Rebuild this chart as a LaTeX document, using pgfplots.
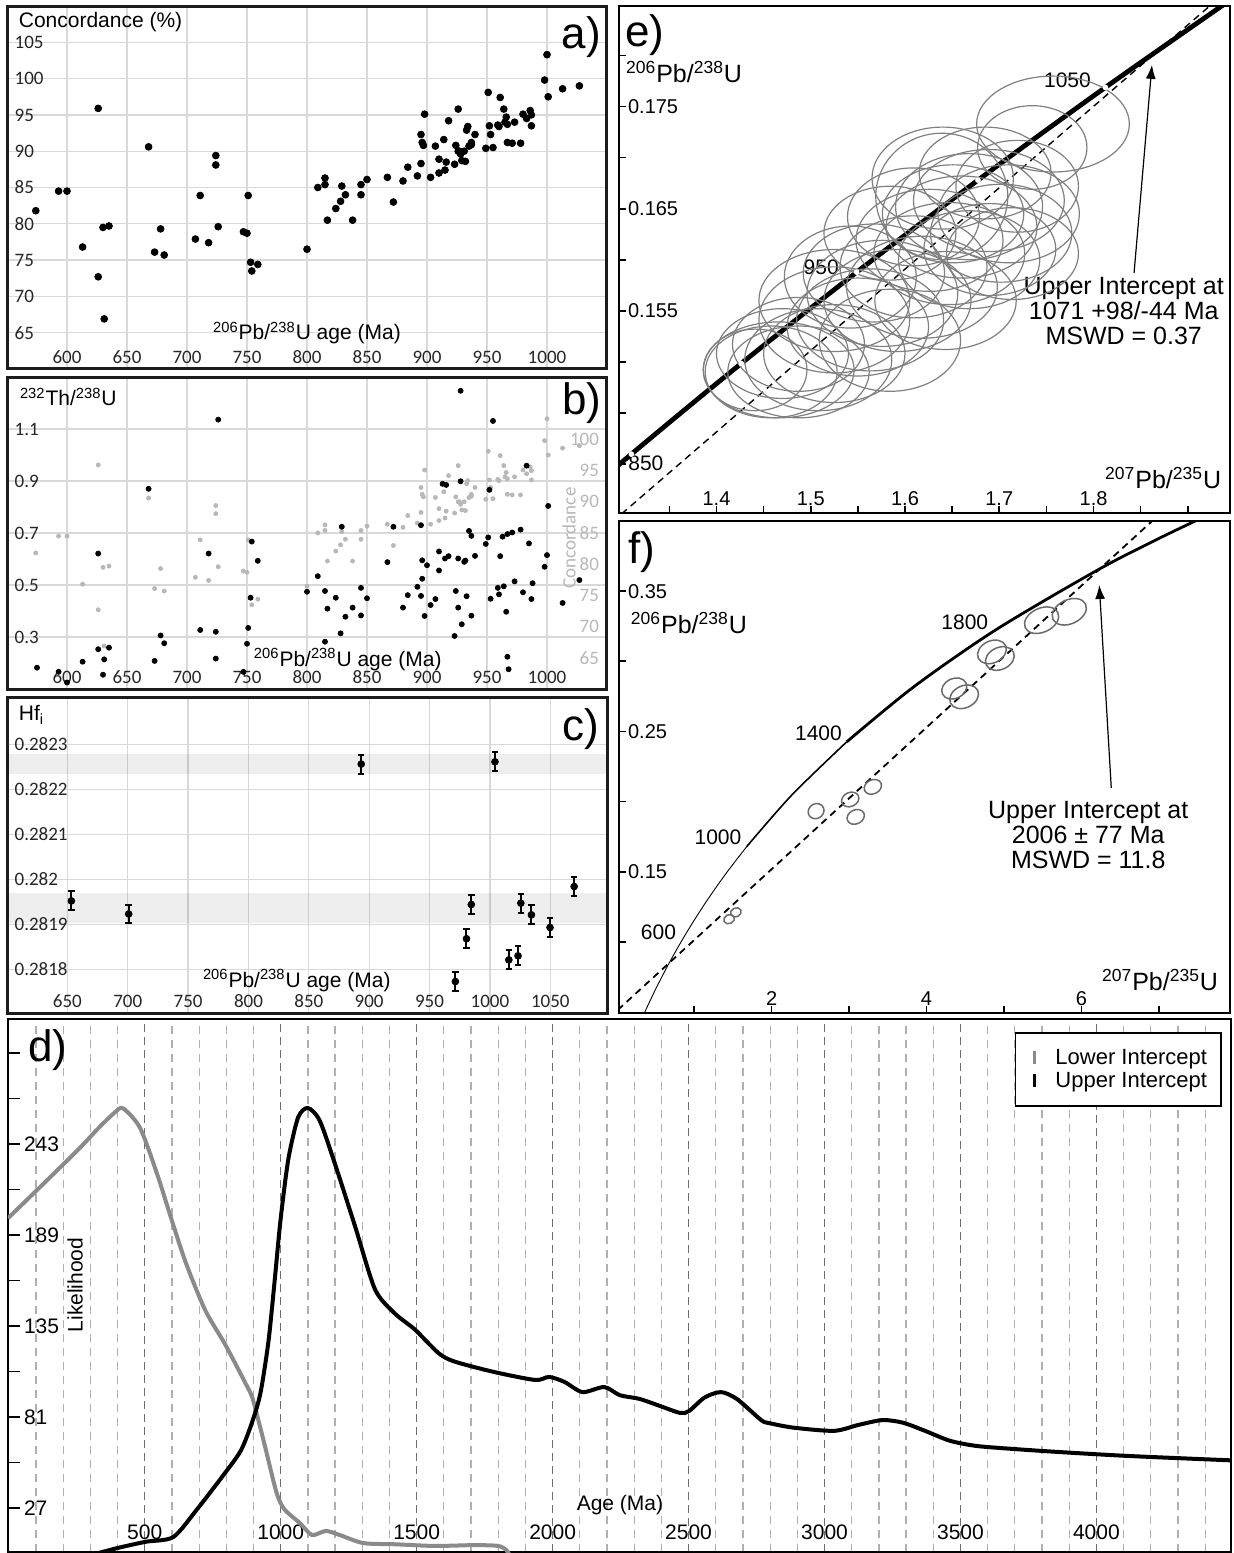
\documentclass[border=0pt]{standalone}
\usepackage{fontspec}
\setmainfont{Liberation Sans}
\newfontfamily\calfont{Carlito}
\usepackage{pgfplots}
\usepackage{pgfplotstable}
\pgfplotsset{compat=1.18}
\usetikzlibrary{arrows.meta}

\definecolor{framec}{HTML}{1C1C1C}
\definecolor{gridc}{HTML}{D9D9D9}
\definecolor{ptgray}{HTML}{B8B8B8}
\definecolor{elgray}{HTML}{808080}
\definecolor{lowc}{HTML}{8A8A8A}
\definecolor{dgridmaj}{HTML}{6E6E6E}
\definecolor{dgridmin}{HTML}{B0B0B0}

\pgfdeclareplotmark{ellip}{%
  \pgfpathellipse{\pgfpointorigin}%
    {\pgfplotspointaxisdirectionxy{\elAx}{\elAy}}%
    {\pgfplotspointaxisdirectionxy{\elBx}{\elBy}}%
  \pgfusepathqstroke}

\newcommand\fs[1]{\fontsize{#1}{#1}\selectfont}
\newcommand\PbU[2]{\textsuperscript{#1}Pb/\textsuperscript{#2}U}

\pgfplotsset{
  abc/.style={
    scale only axis, anchor=north west, width=300pt,
    axis line style={line width=1.5pt, draw=framec},
    grid=major, grid style={gridc, line width=0.6pt},
    major tick length=0pt, minor tick length=0pt,
    /pgf/number format/assume math mode=true,
    /pgf/number format/1000 sep={},
    ticklabel style={font=\calfont\fs{9.5}, text=black!85},
    yticklabel style={anchor=west, xshift=0.3pt},
    xticklabel style={anchor=south, yshift=-1pt},
    xmin=550, xmax=1050,
  },
  ellipses/.style={only marks, scatter, mark=ellip, draw=elgray, line width=0.6pt,
    scatter/@pre marker code/.code={}, scatter/@post marker code/.code={},
    visualization depends on=value \thisrow{ax}\as\elAx,
    visualization depends on=value \thisrow{ay}\as\elAy,
    visualization depends on=value \thisrow{bx}\as\elBx,
    visualization depends on=value \thisrow{by}\as\elBy},
  ef/.style={
    scale only axis, anchor=north west, width=305.5pt,
    axis line style={line width=1.2pt},
    tick align=inside, major tick length=3.5pt, minor tick length=3.5pt,
    tick style={black, line width=0.8pt},
    xtick pos=bottom, ytick pos=left,
    ticklabel style={font=\fs{10}},
    yticklabel style={anchor=west, xshift=1pt},
    xticklabel style={anchor=south, yshift=0pt},
  },
}

% concordance (%) vs 206Pb/238U age (Ma)
\pgfplotstableread{
age conc
574 81.8
593 84.5
600 84.5
613 76.8
626 95.9
626 72.7
630 79.5
635 79.7
631 66.9
668 90.6
673 76.1
678 79.3
681 75.7
707 77.9
711 83.9
718 77.4
724 89.4
724 88.1
726 79.6
747 78.9
750 78.7
751 83.9
753 74.7
754 73.5
759 74.4
800 76.5
809 85.0
815 86.3
815 85.4
817 80.5
824 82.1
828 83.1
829 85.2
832 84.0
838 80.5
845 84.0
845 85.4
850 86.1
867 86.4
872 83.0
880 85.9
884 87.8
892 86.6
895 92.3
895 88.3
896 91.2
897 90.8
898 95.1
903 86.4
907 90.7
910 87.0
910 88.9
914 91.6
915 87.4
916 88.5
918 94.2
923 88.2
924 90.8
926 95.8
926 90.0
927 90.0
928 89.6
929 88.7
931 90.0
932 88.6
933 92.9
934 93.4
935 90.7
937 91.2
937 90.9
940 92.3
949 90.4
951 98.1
952 93.5
953 92.3
955 90.5
959 93.6
960 93.4
961 97.4
964 95.8
965 94.0
966 94.7
967 93.7
967 91.2
971 91.1
973 94.0
978 91.1
980 95.1
983 94.5
986 95.6
987 95.0
987 93.5
998 99.8
1000 103.3
1001 97.5
1013 98.6
1027 99.0
}\conc

% 232Th/238U vs age
\pgfplotstableread{
age thu
575 0.182
593 0.166
600 0.125
613 0.205
626 0.621
626 0.253
631 0.214
630 0.155
635 0.259
668 0.870
673 0.208
678 0.306
681 0.276
711 0.327
718 0.621
724 0.320
724 0.217
726 1.136
747 0.166
750 0.274
751 0.335
754 0.667
753 0.451
759 0.593
800 0.474
809 0.534
815 0.477
815 0.282
817 0.409
824 0.451
828 0.314
829 0.724
832 0.378
838 0.413
845 0.383
845 0.489
850 0.449
867 0.588
872 0.724
880 0.413
884 0.461
892 0.493
895 0.730
895 0.458
896 0.524
896 0.595
898 0.381
900 0.576
903 0.423
907 0.446
910 0.629
910 0.556
913 0.889
916 0.885
915 0.602
918 0.611
923 0.304
924 0.477
926 0.602
926 0.413
928 1.247
928 0.899
929 0.349
931 0.589
932 0.594
933 0.457
935 0.708
937 0.689
937 0.382
940 0.612
949 0.658
951 0.683
952 0.866
953 0.447
955 1.131
959 0.489
960 0.464
961 0.611
963 0.686
964 0.495
966 0.397
967 0.696
967 0.224
968 0.176
971 0.702
973 0.514
978 0.713
980 0.472
983 0.959
985 0.660
987 0.446
988 0.507
998 0.570
1000 0.615
1001 0.804
1013 0.431
1027 0.519
}\thu

\begin{document}
\begin{tikzpicture}
\useasboundingbox (0pt,0pt) rectangle (617pt,-776.5pt);
\fill[white] (0pt,0pt) rectangle (617pt,-776.5pt);

%================ a ================
\begin{axis}[abc, at={(3.5pt,-3pt)}, height=181.5pt,
  ymin=60, ymax=110,
  xtick={600,650,...,1000}, ytick={65,70,...,105}]
\addplot[only marks, mark=*, mark size=1.7pt, black] table[x=age,y=conc] {\conc};
\node[anchor=west, font=\fs{10.5}] at (rel axis cs:0.008,0.956) {Concordance (\%)};
\node[font=\fs{10.5}] at (rel axis cs:0.5,0.099) {\PbU{206}{238} age (Ma)};
\node[font=\fs{22}] at (rel axis cs:0.957,0.915) {a)};
\end{axis}

%================ b ================
\begin{axis}[abc, at={(3.5pt,-188.5pt)}, height=156pt,
  ymin=0.1, ymax=1.3,
  xtick={600,650,...,1000}, ytick={0.3,0.5,0.7,0.9,1.1}]
\end{axis}
\begin{axis}[scale only axis, anchor=north west, at={(3.5pt,-188.5pt)}, width=300pt, height=156pt,
  xmin=550, xmax=1050, ymin=60, ymax=110,
  axis x line=none, axis y line*=right, y axis line style={draw=none},
  xtick=\empty, ytick={65,70,...,100}, major tick length=0pt,
  /pgf/number format/assume math mode=true,
  ticklabel style={font=\calfont\fs{9.5}, text=ptgray},
  yticklabel style={anchor=east, xshift=-0.5pt}]
\addplot[only marks, mark=*, mark size=1.0pt, ptgray] table[x=age,y=conc] {\conc};
\node[rotate=90, font=\calfont\fs{9.5}, text=ptgray] at (rel axis cs:0.937,0.484) {Concordance};
\end{axis}
\begin{axis}[scale only axis, anchor=north west, at={(3.5pt,-188.5pt)}, width=300pt, height=156pt,
  xmin=550, xmax=1050, ymin=0.1, ymax=1.3,
  axis line style={line width=1.5pt, draw=framec},
  xtick=\empty, ytick=\empty]
\addplot[only marks, mark=*, mark size=1.25pt, black] table[x=age,y=thu] {\thu};
\node[anchor=west, font=\fs{10.5}] at (rel axis cs:0.01,0.936) {\textsuperscript{232}Th/\textsuperscript{238}U};
\node[font=\fs{10.5}] at (rel axis cs:0.568,0.093) {\PbU{206}{238} age (Ma)};
\node[font=\fs{22}] at (rel axis cs:0.958,0.917) {b)};
\end{axis}

%================ c ================
\begin{axis}[abc, at={(3.5pt,-348.5pt)}, height=158pt,
  xmin=600, xmax=1097, ymin=0.281703, ymax=0.282405,
  xtick={650,700,...,1050},
  ytick={0.2818,0.2819,0.282,0.2821,0.2822,0.2823},
  yticklabels={0.2818,0.2819,0.282,0.2821,0.2822,0.2823},
  scaled y ticks=false]
\addplot[draw=none, fill=black, fill opacity=0.065] coordinates {(600,0.282233) (1097,0.282233) (1097,0.282278) (600,0.282278)};
\addplot[draw=none, fill=black, fill opacity=0.065] coordinates {(600,0.281902) (1097,0.281902) (1097,0.281969) (600,0.281969)};
\addplot[only marks, mark=*, mark size=1.7pt, black,
  error bars/.cd, y dir=both, y explicit,
  error bar style={line width=1pt, black},
  error mark options={rotate=90, mark size=1.6pt, line width=1pt, black}]
coordinates {
(653.3,0.281952) +- (0,0.000021)
(700.8,0.281923) +- (0,0.000021)
(893.4,0.282256) +- (0,0.000021)
(1004.2,0.282261) +- (0,0.000021)
(971.4,0.281773) +- (0,0.000021)
(980.6,0.281868) +- (0,0.000021)
(984.6,0.281944) +- (0,0.000021)
(1015.7,0.281821) +- (0,0.000021)
(1023.3,0.281830) +- (0,0.000021)
(1025.6,0.281947) +- (0,0.000021)
(1034.4,0.281921) +- (0,0.000021)
(1049.8,0.281893) +- (0,0.000021)
(1069.8,0.281984) +- (0,0.000021)
};
\node[anchor=west, font=\fs{10.5}] at (rel axis cs:0.008,0.943) {Hf\textsubscript{i}};
\node[font=\fs{10.5}] at (rel axis cs:0.483,0.104) {\PbU{206}{238} age (Ma)};
\node[font=\fs{22}] at (rel axis cs:0.957,0.899) {c)};
\end{axis}

%================ e ================
\begin{axis}[ef, at={(309.5pt,-3pt)}, height=253.5pt,
  xmin=1.2966, xmax=1.9448, ymin=0.13517, ymax=0.18487,
  xtick={1.4,1.5,1.6,1.7,1.8}, xticklabels={1.4,1.5,1.6,1.7,1.8},
  minor xtick={1.35,1.45,1.55,1.65,1.75,1.85,1.9},
  ytick={0.155,0.165,0.175}, yticklabels={0.155,0.165,0.175},
  minor ytick={0.14,0.145,0.15,0.16,0.17,0.18}]
\addplot[ellipses] table {
x y ax ay bx by
1.757 0.1733 0.081 0 0 0.0047
1.735 0.1710 0.058 0 0 0.0041
1.639 0.1662 0.070 0 0 0.0062
1.689 0.1658 0.080 0 0 0.0050
1.710 0.1645 0.075 0 0 0.0048
1.668 0.1652 0.078 0 0 0.0052
1.685 0.1685 0.070 0 0 0.0045
1.719 0.1672 0.065 0 0 0.0045
1.660 0.1632 0.080 0 0 0.0050
1.651 0.1645 0.075 0 0 0.0048
1.714 0.1606 0.070 0 0 0.0045
1.702 0.1626 0.075 0 0 0.0048
1.626 0.1619 0.078 0 0 0.0050
1.609 0.1642 0.070 0 0 0.0048
1.584 0.1626 0.070 0 0 0.0046
1.647 0.1606 0.080 0 0 0.0050
1.668 0.1600 0.075 0 0 0.0048
1.609 0.1593 0.078 0 0 0.0050
1.618 0.1573 0.080 0 0 0.0050
1.643 0.1560 0.075 0 0 0.0048
1.592 0.1560 0.078 0 0 0.0050
1.576 0.1567 0.080 0 0 0.0052
1.567 0.1587 0.075 0 0 0.0048
1.542 0.1583 0.070 0 0 0.0050
1.525 0.1560 0.080 0 0 0.0050
1.525 0.1541 0.080 0 0 0.0052
1.563 0.1541 0.078 0 0 0.0050
1.550 0.1534 0.075 0 0 0.0048
1.584 0.1521 0.075 0 0 0.0050
1.525 0.1508 0.075 0 0 0.0048
1.508 0.1502 0.078 0 0 0.0050
1.487 0.1517 0.070 0 0 0.0046
1.470 0.1508 0.070 0 0 0.0044
1.466 0.1492 0.080 0 0 0.0047
1.458 0.1490 0.070 0 0 0.0045
1.487 0.1490 0.075 0 0 0.0045
1.441 0.1492 0.055 0 0 0.0040
1.640 0.1680 0.075 0 0 0.0050
1.690 0.1610 0.070 0 0 0.0045
};
\addplot[black, line width=0.7pt, dash pattern=on 3.5pt off 2.5pt] coordinates {(1.28,0.13354) (1.96,0.18780)};
\addplot[black, line width=2.4pt, smooth] coordinates {
(1.19880,0.13213) (1.30971,0.14094) (1.42629,0.14983) (1.54876,0.15878)
(1.67741,0.16780) (1.81256,0.17689) (1.95451,0.18606)};
\addplot[only marks, mark=*, mark size=1.2pt, fill=white, draw=white] coordinates {
(1.30971,0.14094) (1.42629,0.14983) (1.54876,0.15878) (1.67741,0.16780) (1.81256,0.17689)};
\draw[-{Latex[length=7pt,width=5pt]}, line width=0.6pt] (axis cs:1.843,0.1587) -- (axis cs:1.862,0.1791);
\node[font=\fs{22}] at (rel axis cs:0.0426,0.943) {e)};
\node[anchor=west, font=\fs{12.5}] at (rel axis cs:0.0,0.870) {\PbU{206}{238}};
\node[anchor=east, font=\fs{12.5}] at (rel axis cs:0.997,0.069) {\textsuperscript{207}Pb/\textsuperscript{235}U};
\node[font=\fs{12.5}, align=center] at (rel axis cs:0.826,0.398) {Upper Intercept at\\[0pt]1071 +98/-44 Ma\\[0pt]MSWD = 0.37};
\node[font=\fs{10.5}] at (rel axis cs:0.044,0.0986) {850};
\node[font=\fs{10.5}] at (rel axis cs:0.331,0.485) {950};
\node[font=\fs{10.5}] at (rel axis cs:0.734,0.854) {1050};
\end{axis}

%================ f ================
\begin{axis}[ef, at={(309.5pt,-260.5pt)}, height=246pt,
  xmin=0.03, xmax=7.92, ymin=0.0493, ymax=0.400,
  xtick={2,4,6}, xticklabels={2,4,6}, minor xtick={1,3,5,7},
  ytick={0.15,0.25,0.35}, yticklabels={0.15,0.25,0.35},
  minor ytick={0.1,0.2,0.3}]
\addplot[ellipses, line width=0.75pt, draw=black!58] table {
x y ax ay bx by
5.845 0.3353 0.211 0.00542 -0.0655 0.00775
5.487 0.3293 0.211 0.00542 -0.0655 0.00775
4.846 0.3067 0.176 0.00453 -0.060 0.00711
4.948 0.3020 0.176 0.00453 -0.060 0.00711
4.359 0.2806 0.152 0.00392 -0.0547 0.00646
4.487 0.2747 0.176 0.00453 -0.060 0.00711
3.308 0.2105 0.105 0.00271 -0.038 0.00452
3.016 0.2015 0.105 0.00271 -0.038 0.00452
3.087 0.1891 0.105 0.00271 -0.038 0.00452
2.575 0.1932 0.095 0.00250 -0.038 0.00480
1.539 0.1210 0.0644 0.00166 -0.0246 0.00290
1.452 0.1162 0.0644 0.00166 -0.0246 0.00290
};
\addplot[black, line width=0.9pt, dash pattern=on 3.5pt off 2.5pt] coordinates {(-0.1,0.0457) (7.0,0.4043)};
\addplot[black, line width=0.45pt, smooth] coordinates {
(0.34374,0.04764) (0.48281,0.06402) (0.63628,0.08065) (0.80563,0.09754)
(0.99251,0.11470) (1.19880,0.13213) (1.42629,0.14983) (1.67741,0.16780)};
\addplot[black, line width=0.8pt, smooth] coordinates {
(1.67741,0.16780) (2.26030,0.20460) (2.97009,0.24256)};
\addplot[black, line width=1.4pt, smooth] coordinates {
(2.97009,0.24256) (3.83441,0.28172) (4.88690,0.32211) (6.16853,0.36377)
(6.91045,0.38509) (7.72918,0.40674) (8.16979,0.41769)};
\draw[-{Latex[length=7pt,width=5pt]}, line width=0.6pt] (axis cs:6.387,0.2097) -- (axis cs:6.232,0.3544);
\node[font=\fs{22}] at (rel axis cs:0.0376,0.937) {f)};
\node[anchor=west, font=\fs{12.5}] at (rel axis cs:0.008,0.793) {\PbU{206}{238}};
\node[anchor=east, font=\fs{12.5}] at (rel axis cs:0.992,0.067) {\textsuperscript{207}Pb/\textsuperscript{235}U};
\node[font=\fs{12.5}, align=center] at (rel axis cs:0.768,0.362) {Upper Intercept at\\[0pt]2006 ± 77 Ma\\[0pt]MSWD = 11.8};
\node[font=\fs{10.5}] at (rel axis cs:0.566,0.795) {1800};
\node[font=\fs{10.5}] at (rel axis cs:0.3265,0.569) {1400};
\node[font=\fs{10.5}] at (rel axis cs:0.162,0.358) {1000};
\node[font=\fs{10.5}] at (rel axis cs:0.0646,0.165) {600};
\end{axis}

%================ d ================
\begin{axis}[scale only axis, anchor=north west, at={(4pt,-509.5pt)}, width=611.5pt, height=266.5pt,
  xmin=-3, xmax=4495, ymin=0.9, ymax=317.2,
  axis line style={line width=1.2pt},
  xtick={500,1000,...,4000},
  minor xtick={100,200,300,400,600,700,800,900,1100,1200,1300,1400,1600,1700,1800,1900,2100,2200,2300,2400,2600,2700,2800,2900,3100,3200,3300,3400,3600,3700,3800,3900,4100,4200,4300,4400},
  xmajorgrids, xminorgrids,
  major x grid style={dgridmaj, line width=0.7pt, dash pattern=on 4pt off 2.5pt},
  minor x grid style={dgridmin, line width=0.6pt, dash pattern=on 4pt off 3pt},
  xtick style={/pgfplots/major tick length=0pt, /pgfplots/minor tick length=0pt},
  ytick={27,54,...,297}, yticklabels={27,,81,,135,,189,,243,,},
  ytick pos=left, xtick pos=bottom, tick align=inside,
  major tick length=6pt, ytick style={black, line width=0.8pt},
  /pgf/number format/assume math mode=true,
  /pgf/number format/1000 sep={},
  ticklabel style={font=\fs{10.5}},
  yticklabel style={anchor=west, xshift=4.5pt},
  xticklabel style={anchor=south, yshift=2.5pt},
  legend style={at={(rel axis cs:0.9926,0.9756)}, anchor=north east, draw=black,
    line width=0.9pt, font=\fs{11}, fill=white, inner xsep=5pt, inner ysep=6pt, row sep=-1.5pt},
  legend cell align=left,
  legend image code/.code={\draw[#1, line width=1.8pt] (3.5pt,-0.3em) -- (3.5pt,0.35em);
    \path (0pt,0pt) (11pt,0pt);}]
\addplot[lowc, line width=2pt, smooth, tension=0.45] coordinates {
(-3,199) (112,217) (257,240) (330,252.5) (388,261.5) (420,264.2) (483,252.5)
(548,224) (592,201.5) (650,173) (722,144.5) (795,124.3) (868,101.8) (897,91.7)
(940,65) (984,36.5) (1013,26.4) (1071,18) (1115,11) (1166,13.4) (1217,11)
(1304,6.2) (1420,5.5) (1567,4.5) (1713,5) (1800,4.5) (1830,2) (1845,-2)};
\addlegendentry{Lower Intercept}
\addplot[black, line width=2pt, smooth, tension=0.45] coordinates {
(300,-1) (403,3.4) (504,7.0) (605,9.8) (693,26.4) (781,44.8) (853,61) (897,79)
(926,95.6) (955,126) (977,160.7) (999,197.5) (1028,234) (1064,258.8) (1100,264.4)
(1144,256.7) (1202,230) (1275,193.4) (1347,156.7) (1420,142.4) (1493,133) (1580,119)
(1638,114) (1783,107.8) (1936,103) (1987,104.8) (2044,101.8) (2110,95.8) (2190,98.8)
(2247,94) (2321,91.7) (2396,87.5) (2470,83.4) (2502,84.6) (2559,92.6) (2619,95.8)
(2678,91.7) (2767,79.2) (2797,77.4) (2886,74.7) (3035,72.8) (3124,76.3) (3213,79.2)
(3287,77.7) (3362,73.3) (3452,67.4) (3511,65.1) (3585,63.4) (3808,60.8) (4105,58) (4495,55.3)};
\addlegendentry{Upper Intercept}
\node[font=\fs{22}] at (rel axis cs:0.0327,0.942) {d)};
\node[rotate=90, font=\fs{10.5}] at (rel axis cs:0.0548,0.501) {Likelihood};
\node[font=\fs{10.5}] at (rel axis cs:0.5004,0.088) {Age (Ma)};
\end{axis}
\end{tikzpicture}
\end{document}
